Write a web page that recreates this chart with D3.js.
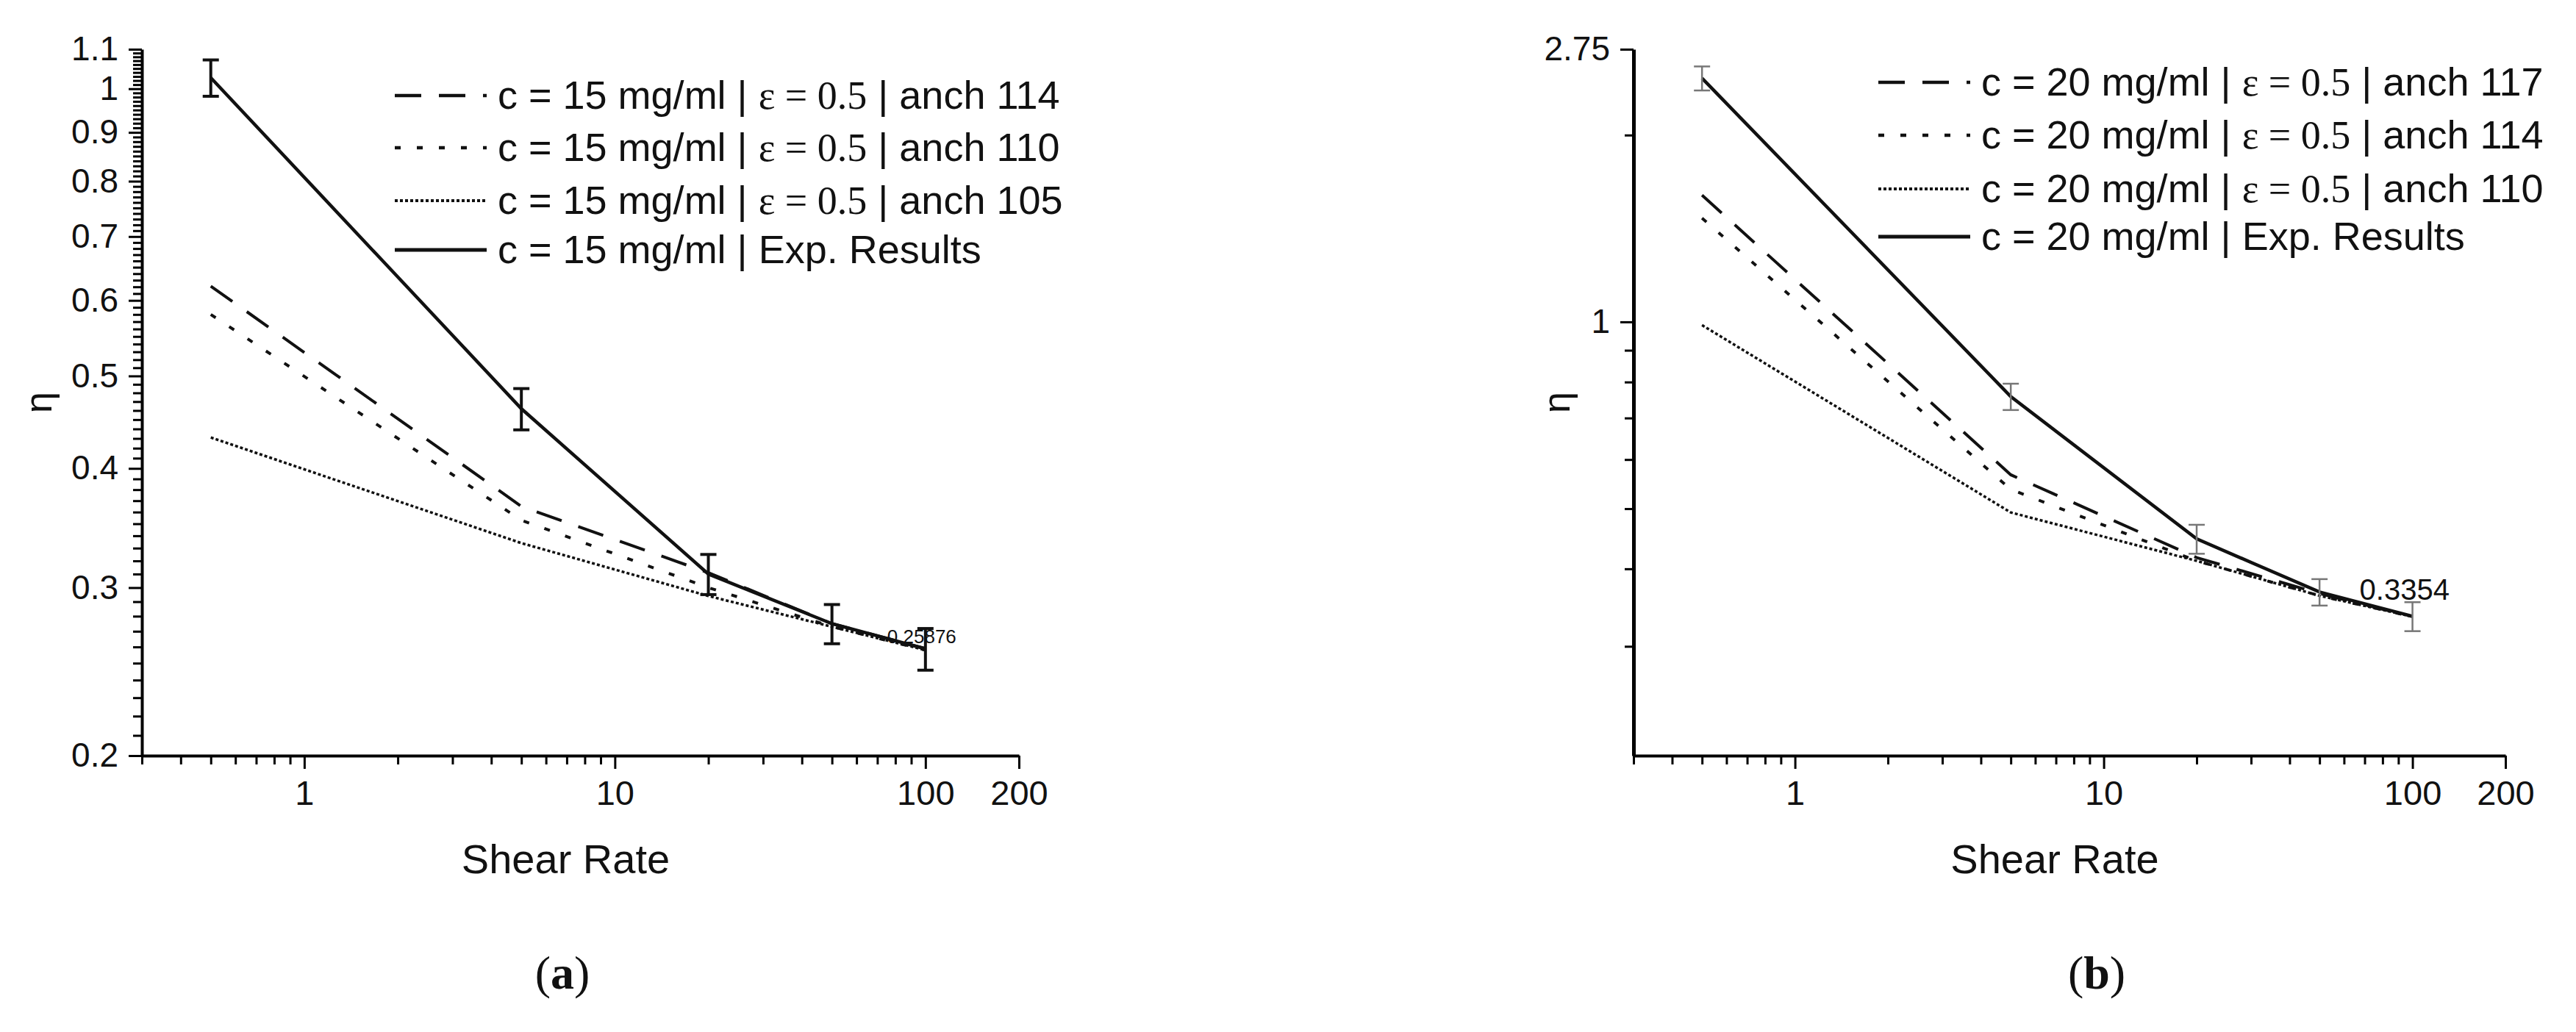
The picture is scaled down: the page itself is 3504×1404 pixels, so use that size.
<!DOCTYPE html>
<html>
<head>
<meta charset="utf-8">
<script src="https://cdn.jsdelivr.net/npm/d3@7"></script>
<style>
  body { margin: 0; background: #fff; }
  text { font-family: "Liberation Sans Narrow", "Liberation Sans", Arial, sans-serif; fill: #111; }
</style>
</head>
<body>
<svg id="chart" width="3504" height="1404"></svg>
<script>
// shear rates shared by both panels
var shearRates = [0.5, 5, 20, 50, 100];

// panel (a), c = 15 mg/ml
var a114 = [0.621, 0.365, 0.311, 0.275, 0.259];
var a110 = [0.58, 0.353, 0.300, 0.273, 0.258];
var a105 = [0.431, 0.334, 0.294, 0.273, 0.258];
var aExp = [1.027, 0.462, 0.310, 0.275, 0.2588];
var aErr = [0.045, 0.023, 0.015, 0.013, 0.013];

// panel (b), c = 20 mg/ml
var b117 = [1.60, 0.567, 0.417, 0.365, 0.335];
var b114 = [1.47, 0.537, 0.412, 0.362, 0.335];
var b110 = [0.988, 0.493, 0.412, 0.362, 0.335];
var bExp = [2.47, 0.758, 0.447, 0.367, 0.3354];
var bErr = [0.11, 0.037, 0.024, 0.018, 0.018];

var xMajor = [1, 10, 100, 200];
var xMinor = [0.3, 0.4, 0.5, 0.6, 0.7, 0.8, 0.9, 2, 3, 4, 5, 6, 7, 8, 9, 20, 30, 40, 50, 60, 70, 80, 90];

var aYLabels = [0.2, 0.3, 0.4, 0.5, 0.6, 0.7, 0.8, 0.9, 1, 1.1];
var bYLabels = [1, 2.75];
var bYMinor = [0.3, 0.4, 0.5, 0.6, 0.7, 0.8, 0.9, 2];

var styles = {
  dash: { dash: "36,24", w: 4 },
  short: { dash: "8,22", w: 4 },
  dot: { dash: "4,3", w: 3.5 },
  solid: { dash: null, w: 4.5 }
};

var svg = d3.select("#chart");
svg.append("rect").attr("width", 3504).attr("height", 1404).attr("fill", "#fff");

function panel(opt) {
  var g = svg.append("g");
  var x = d3.scaleLog().domain([0.3, 200]).range([opt.left, opt.right]);
  var y = d3.scaleLog().domain(opt.yDomain).range([opt.bottom, opt.top]);

  // x axis
  g.append("g")
    .attr("transform", "translate(0," + opt.bottom + ")")
    .call(d3.axisBottom(x).tickValues(xMajor).tickSize(18).tickSizeOuter(0).tickPadding(16).tickFormat(d3.format("d")))
    .call(function (s) {
      s.select(".domain").attr("stroke-width", 4);
      s.selectAll(".tick line").attr("stroke-width", 3);
      s.selectAll("text").attr("font-size", 47).style("font-family", "Liberation Sans Narrow, Liberation Sans, Arial");
    });
  g.append("g")
    .attr("transform", "translate(0," + opt.bottom + ")")
    .call(d3.axisBottom(x).tickValues(xMinor).tickSize(12).tickFormat(""))
    .call(function (s) {
      s.select(".domain").remove();
      s.selectAll(".tick line").attr("stroke-width", 3);
    });

  // y axis
  g.append("g")
    .attr("transform", "translate(" + opt.left + ",0)")
    .call(d3.axisLeft(y).tickValues(opt.yLabels).tickSize(18).tickSizeOuter(0).tickPadding(14).tickFormat(d3.format("")))
    .call(function (s) {
      s.select(".domain").attr("stroke-width", opt.yAxisW);
      s.selectAll(".tick line").attr("stroke-width", 3);
      s.selectAll("text").attr("font-size", 46).style("font-family", "Liberation Sans Narrow, Liberation Sans, Arial");
    });
  g.append("g")
    .attr("transform", "translate(" + opt.left + ",0)")
    .call(d3.axisLeft(y).tickValues(opt.yMinor).tickSize(12).tickFormat(""))
    .call(function (s) {
      s.select(".domain").remove();
      s.selectAll(".tick line").attr("stroke-width", 3);
    });

  var line = d3.line().x(function (d) { return x(d[0]); }).y(function (d) { return y(d[1]); });

  opt.series.forEach(function (s) {
    var st = styles[s.style];
    g.append("path")
      .datum(d3.zip(shearRates, s.values))
      .attr("d", line)
      .attr("fill", "none")
      .attr("stroke", "#111")
      .attr("stroke-width", st.w)
      .attr("stroke-dasharray", st.dash);
  });

  // error bars on experimental results
  var eb = g.append("g").attr("stroke", opt.errColor).attr("stroke-width", opt.errW);
  shearRates.forEach(function (r, i) {
    var v = opt.exp[i], e = opt.err[i], cx = x(r);
    eb.append("line").attr("x1", cx).attr("x2", cx).attr("y1", y(v + e)).attr("y2", y(v - e));
    eb.append("line").attr("x1", cx - 11).attr("x2", cx + 11).attr("y1", y(v + e)).attr("y2", y(v + e));
    eb.append("line").attr("x1", cx - 11).attr("x2", cx + 11).attr("y1", y(v - e)).attr("y2", y(v - e));
  });

  // end value label
  g.append("text")
    .attr("x", x(100) + opt.valueDx).attr("y", y(opt.exp[4]) + opt.valueDy)
    .attr("font-size", opt.valueSize).text(opt.valueText);

  // legend
  opt.series.forEach(function (s, i) {
    var st = styles[s.style];
    var ly = opt.legY[i];
    g.append("line")
      .attr("x1", opt.legX).attr("x2", opt.legX + 125).attr("y1", ly).attr("y2", ly)
      .attr("stroke", "#111").attr("stroke-width", st.w + 0.5).attr("stroke-dasharray", st.dash);
    var t = g.append("text").attr("x", opt.legX + 140).attr("y", ly + 18).attr("font-size", 54);
    if (s.eps) {
      t.append("tspan").text(opt.conc + " | ");
      t.append("tspan").style("font-family", "Liberation Serif, Times New Roman, serif").text("ε = 0.5");
      t.append("tspan").text(" | anch " + s.anch);
    } else {
      t.text(opt.conc + " | Exp. Results");
    }
  });

  // axis titles
  g.append("text").attr("x", (opt.left + opt.right) / 2 - 20).attr("y", opt.bottom + 160)
    .attr("text-anchor", "middle").attr("font-size", 56).text("Shear Rate");
  g.append("text")
    .attr("transform", "translate(" + opt.etaX + "," + (opt.top + opt.bottom) / 2 + ") rotate(-90)")
    .attr("text-anchor", "middle").attr("font-size", 52).text("η");

  // panel caption
  var cap = g.append("text").attr("x", opt.capX).attr("y", 1345).attr("text-anchor", "middle")
    .attr("font-size", 64).style("font-family", "Liberation Serif, Times New Roman, serif");
  cap.append("tspan").text("(");
  cap.append("tspan").attr("font-weight", "bold").text(opt.capLetter);
  cap.append("tspan").text(")");
}

var aMinor = d3.range(21, 110).map(function (v) { return v / 100; })
  .filter(function (v) { return aYLabels.indexOf(v) < 0; });

panel({
  left: 193, right: 1386, top: 67, bottom: 1028,
  yDomain: [0.2, 1.1], yLabels: aYLabels, yMinor: aMinor, yAxisW: 4,
  series: [
    { values: a114, style: "dash", eps: true, anch: 114 },
    { values: a110, style: "short", eps: true, anch: 110 },
    { values: a105, style: "dot", eps: true, anch: 105 },
    { values: aExp, style: "solid", eps: false }
  ],
  exp: aExp, err: aErr, errColor: "#111", errW: 4,
  valueText: "0.25876", valueSize: 26, valueDx: -52, valueDy: -8,
  legX: 537, legY: [130, 201, 273, 340], conc: "c = 15 mg/ml",
  etaX: 70, capX: 765, capLetter: "a"
});

panel({
  left: 2222, right: 3408, top: 67, bottom: 1028,
  yDomain: [0.2, 2.75], yLabels: bYLabels, yMinor: bYMinor, yAxisW: 5,
  series: [
    { values: b117, style: "dash", eps: true, anch: 117 },
    { values: b114, style: "short", eps: true, anch: 114 },
    { values: b110, style: "dot", eps: true, anch: 110 },
    { values: bExp, style: "solid", eps: false }
  ],
  exp: bExp, err: bErr, errColor: "#777", errW: 2.5,
  valueText: "0.3354", valueSize: 40, valueDx: -72, valueDy: -22,
  legX: 2555, legY: [112, 184, 257, 322], conc: "c = 20 mg/ml",
  etaX: 2135, capX: 2852, capLetter: "b"
});
</script>
</body>
</html>
